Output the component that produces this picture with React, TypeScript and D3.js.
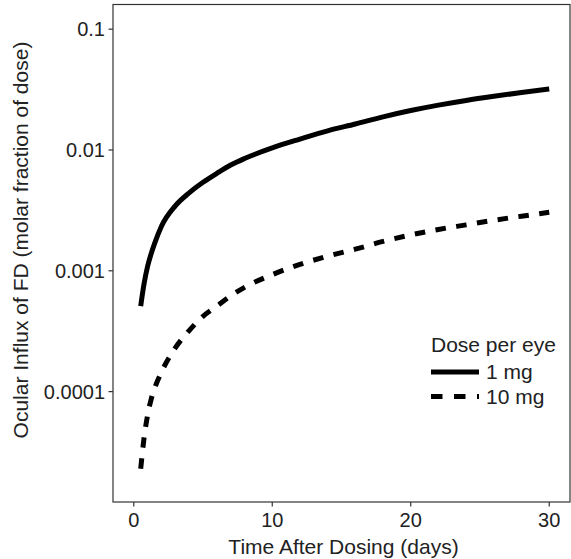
import * as d3 from "d3";

const days = [0.5, 0.75, 1, 1.25, 1.5, 2, 3, 4, 5, 6, 7, 8, 10, 12, 14, 16, 18, 20, 22, 24, 26, 28, 30];
const influx1mg = [0.00051, 0.00079, 0.00109, 0.00138, 0.00168, 0.00234, 0.00345, 0.00442, 0.0054, 0.0064, 0.0075, 0.0085, 0.0104, 0.0123, 0.0144, 0.0164, 0.0188, 0.0212, 0.0235, 0.0257, 0.0278, 0.0299, 0.032];
const influx10mg = [0.000023, 0.000042, 0.000064, 0.000086, 0.000106, 0.000145, 0.00023, 0.00032, 0.00042, 0.00051, 0.00062, 0.00073, 0.00093, 0.00113, 0.00132, 0.00151, 0.00175, 0.00198, 0.0022, 0.0024, 0.00262, 0.00283, 0.00305];

const xTicks = [0, 10, 20, 30];
const yTicks = [0.1, 0.01, 0.001, 0.0001];
const yTickLabels = ["0.1", "0.01", "0.001", "0.0001"];

const series = [
  { label: "1 mg", values: influx1mg, dash: null },
  { label: "10 mg", values: influx10mg, dash: "10.5 10.5" },
];

const W = 571;
const H = 559;
const left = 113;
const right = 570;
const top = 4.5;
const bottom = 502;
const font = "'Liberation Sans', Arial, sans-serif";
const ink = "#222";

export default function App() {
  const x = d3.scaleLinear([-1.5, 31.5], [left, right]);
  const y = d3.scaleLog([1.22e-5, 0.16], [bottom, top]);

  const line = d3
    .line<number>()
    .x((_, i) => x(days[i]))
    .y((d) => y(d))
    .curve(d3.curveMonotoneX);

  return (
    <svg width={W} height={H} style={{ position: "absolute", left: 0, top: 0 }} fontFamily={font}>
      <rect x={0} y={0} width={W} height={H} fill="#fff" />
      {series.map((s) => (
        <path
          key={s.label}
          d={line(s.values) || ""}
          fill="none"
          stroke="#000"
          strokeWidth={5}
          strokeDasharray={s.dash || undefined}
          strokeLinecap="butt"
        />
      ))}
      <rect x={left} y={top} width={right - left} height={bottom - top} fill="none" stroke="#333" strokeWidth={1.2} />
      {yTicks.map((t, i) => (
        <g key={t} transform={`translate(0,${y(t)})`}>
          <line x1={left - 4.5} x2={left} stroke="#333" strokeWidth={1.2} />
          <text x={left - 8} dy="0.35em" textAnchor="end" fontSize={20} fill={ink}>
            {yTickLabels[i]}
          </text>
        </g>
      ))}
      {xTicks.map((t) => (
        <g key={t} transform={`translate(${x(t)},0)`}>
          <line y1={bottom} y2={bottom + 4.5} stroke="#333" strokeWidth={1.2} />
          <text y={bottom + 25} textAnchor="middle" fontSize={20} fill={ink}>
            {t}
          </text>
        </g>
      ))}
      <text x={(left + right) / 2 + 2} y={554} textAnchor="middle" fontSize={21} fill={ink}>
        Time After Dosing (days)
      </text>
      <text
        transform={`translate(28,240) rotate(-90)`}
        textAnchor="middle"
        fontSize={21}
        fill={ink}
      >
        Ocular Influx of FD (molar fraction of dose)
      </text>
      <g transform="translate(431,0)">
        <text x={0} y={351.5} fontSize={21} fill={ink}>
          Dose per eye
        </text>
        {series.map((s, i) => (
          <g key={s.label} transform={`translate(0,${372 + i * 24.5})`}>
            <line x1={0} x2={48} stroke="#000" strokeWidth={5} strokeDasharray={s.dash ? "11.5 11.5" : undefined} />
            <text x={55} dy="0.35em" fontSize={21} fill={ink}>
              {s.label}
            </text>
          </g>
        ))}
      </g>
    </svg>
  );
}
